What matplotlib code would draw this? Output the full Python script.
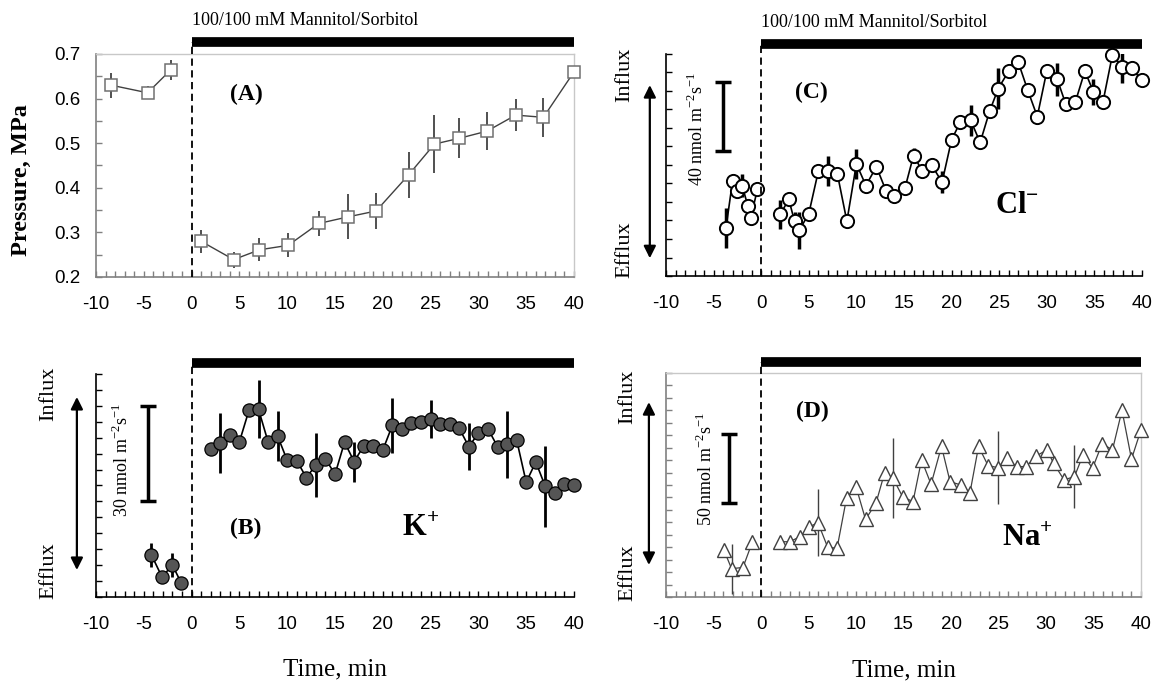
import matplotlib
matplotlib.use("Agg")
import matplotlib.pyplot as plt
from matplotlib.ticker import MultipleLocator, FormatStrFormatter

# ---------------- data ----------------
# Panel A: turgor pressure (MPa)
a_time = [-8.4, -4.6, -2.2, 1.0, 4.4, 7.1, 10.1, 13.3, 16.4, 19.3, 22.7, 25.4, 28.0, 30.9, 33.9, 36.8, 40.0]
a_pressure = [0.630, 0.613, 0.664, 0.280, 0.239, 0.261, 0.271, 0.320, 0.335, 0.348, 0.429,
              0.498, 0.511, 0.527, 0.563, 0.558, 0.660]
a_err = [0.028, 0.015, 0.023, 0.026, 0.018, 0.026, 0.027, 0.027, 0.050, 0.040, 0.052,
         0.065, 0.045, 0.042, 0.036, 0.044, 0.0]
a_n_pre = 3

# Panel B: K+ flux (relative units; scale bar = 30 nmol m-2 s-1)
b_pre_time = [-4.2, -3.1, -2.0, -1.1]
b_pre_flux = [13.2, 6.3, 10.0, 4.5]
b_pre_err = [3.8, 0, 3.8, 0]
b_time = list(range(2, 41))
b_flux = [46.3, 48.4, 50.7, 48.7, 58.6, 58.9, 48.7, 50.5, 42.9, 42.8, 37.5, 41.4, 43.4, 38.5,
          48.6, 42.5, 47.4, 47.4, 46.1, 53.9, 52.8, 54.7, 54.9, 55.8, 54.4, 54.2, 52.9, 47.2,
          51.4, 52.8, 47.2, 47.9, 49.3, 36.0, 42.4, 34.7, 32.6, 35.6, 35.3]
b_err = [0, 9.5, 0, 0, 0, 9.1, 0, 7.9, 0, 0, 0, 10.0, 0, 0, 0, 6.3, 0, 0, 0, 8.6, 0, 0, 0, 6.0,
         0, 0, 0, 7.4, 0, 0, 0, 10.6, 0, 0, 0, 12.6, 0, 0, 0]
b_scale = [30, 60]

# Panel C: Cl- flux (scale bar = 40 nmol m-2 s-1)
c_pre_time = [-3.7, -3.0, -2.5, -2.0, -1.4, -1.1, -0.4]
c_pre_flux = [26.0, 51.6, 45.7, 48.9, 37.8, 31.4, 46.8]
c_pre_err = [11, 0, 0, 6, 0, 0, 0]
c_time = [2.0, 2.9, 3.5, 4.0, 5.0, 6.0, 7.0, 8.0, 9.0, 10.0, 11.0, 12.1, 13.1, 14.0, 15.1, 16.0,
          16.9, 17.9, 19.0, 20.0, 20.9, 22.0, 23.0, 24.0, 24.9, 26.0, 27.0, 28.0, 29.0, 30.0,
          31.1, 32.0, 33.0, 34.0, 34.9, 35.9, 36.9, 37.9, 38.9, 40.0]
c_flux = [33.3, 41.4, 29.6, 24.7, 33.7, 56.6, 56.6, 55.2, 29.6, 60.6, 48.9, 59.1, 46.2, 43.0,
          47.5, 65.1, 57.0, 60.0, 50.7, 73.7, 83.0, 84.2, 72.2, 89.2, 101.3, 110.8, 115.6,
          100.4, 86.2, 110.8, 106.3, 92.8, 94.1, 110.8, 99.5, 94.1, 119.7, 113.1, 112.2, 105.9]
c_err = [8, 0, 5, 10, 0, 0, 8, 0, 0, 8, 0, 0, 0, 0, 0, 4, 0, 0, 6, 0, 0, 8.5, 0, 0, 11,
         0, 0, 3, 0, 0, 9, 0, 0, 0, 7, 0, 0, 9, 0, 0]
c_scale = [67.7, 104.8]

# Panel D: Na+ flux (scale bar = 50 nmol m-2 s-1)
d_pre_time = [-3.9, -3.1, -1.9, -0.9]
d_pre_flux = [37.6, 22.8, 23.7, 44.4]
d_pre_err = [0, 20, 0, 0]
d_time = [2.0, 3.0, 4.1, 5.1, 6.0, 7.0, 8.0, 9.0, 10.0, 11.0, 12.1, 13.0, 13.9, 14.9, 16.0,
          16.9, 17.9, 19.0, 19.9, 21.0, 22.0, 22.9, 23.9, 24.9, 25.9, 26.9, 27.9, 29.0, 30.1,
          30.8, 31.9, 33.0, 33.9, 34.9, 35.9, 37.0, 38.0, 39.0, 40.0]
d_flux = [44.4, 44.4, 48.4, 56.5, 59.7, 40.3, 39.0, 79.3, 88.7, 62.4, 75.3, 99.5, 95.4, 80.6,
          76.6, 110.2, 90.6, 121.0, 92.7, 90.1, 83.9, 121.0, 105.6, 104.0, 111.6, 104.8, 104.8,
          113.4, 118.3, 107.5, 94.1, 96.8, 114.2, 103.5, 123.1, 118.3, 150.0, 110.8, 134.4]
d_err = [0, 0, 0, 0, 27, 0, 0, 0, 0, 0, 0, 0, 32, 0, 0, 0, 0, 0, 0, 0, 0, 0, 0, 29, 0, 0, 0,
         0, 0, 0, 0, 25, 0, 0, 0, 0, 0, 0, 0]
d_scale = [75.3, 130.9]

x_ticks = [-10, -5, 0, 5, 10, 15, 20, 25, 30, 35, 40]
treatment = [0, 40]
title_text = "100/100 mM Mannitol/Sorbitol"

# ---------------- style ----------------
SERIF = "Liberation Serif"
SANS = "Liberation Sans"
plt.rcParams["font.family"] = SANS
plt.rcParams["axes.unicode_minus"] = False

fig = plt.figure(figsize=(11.6, 6.83), dpi=100)
axA = fig.add_axes([0.08276, 0.59444, 0.41207, 0.32650])
axB = fig.add_axes([0.08276, 0.12592, 0.41207, 0.32650])
axC = fig.add_axes([0.57414, 0.59590, 0.41034, 0.32504])
axD = fig.add_axes([0.57414, 0.12592, 0.40948, 0.32796])


def base_axes(ax, ylim, ystep, spine_col, frame, ylabels=False):
    ax.set_xlim(-10, 40)
    ax.set_ylim(*ylim)
    ax.set_xticks(x_ticks)
    ax.xaxis.set_minor_locator(MultipleLocator(1))
    ax.yaxis.set_major_locator(MultipleLocator(ystep))
    ax.tick_params(axis="both", which="both", direction="in", color=spine_col,
                   length=4, width=1)
    ax.tick_params(axis="x", which="major", labelsize=13.5, pad=14)
    ax.tick_params(axis="y", which="major", labelsize=13.5, pad=11, labelleft=ylabels)
    for s in ("left", "bottom"):
        ax.spines[s].set_color(spine_col)
        ax.spines[s].set_linewidth(1.2)
    for s in ("top", "right"):
        if frame:
            ax.spines[s].set_color("#c8c8c8")
            ax.spines[s].set_linewidth(1)
        else:
            ax.spines[s].set_visible(False)
    ax.set_facecolor("white")


def treatment_bar(ax, bar_y):
    tr = ax.get_xaxis_transform()
    ax.plot(treatment, [bar_y, bar_y], transform=tr, color="black", lw=7,
            solid_capstyle="butt", clip_on=False, zorder=5)
    ax.plot([0, 0], [0, bar_y], transform=tr, color="black", lw=1.3,
            ls=(0, (4, 2.5)), clip_on=False, zorder=4)


def influx_arrow(ax, x, ytop, ybot, tx, ty_in, ty_out):
    ax.annotate("", xy=(x, ytop), xytext=(x, ybot), xycoords="axes fraction",
                textcoords="axes fraction", annotation_clip=False,
                arrowprops=dict(arrowstyle="<|-|>", color="black", lw=1.6,
                                mutation_scale=18, shrinkA=0, shrinkB=0))
    ax.text(tx, ty_in, "Influx", transform=ax.transAxes, rotation=90, ha="center",
            va="center", fontsize=16, family=SERIF)
    ax.text(tx, ty_out, "Efflux", transform=ax.transAxes, rotation=90, ha="center",
            va="center", fontsize=16, family=SERIF)


def scale_bar(ax, x, yrange, label, lx, ly):
    mid = (yrange[0] + yrange[1]) / 2
    half = (yrange[1] - yrange[0]) / 2
    ax.errorbar([x], [mid], yerr=[half], fmt="none", ecolor="black", elinewidth=2.5,
                capsize=6, capthick=2.5)
    ax.text(lx, ly, label, rotation=90, ha="center", va="center", fontsize=13,
            family=SERIF)


# ---------------- Panel A ----------------
base_axes(axA, (0.2, 0.7), 0.1, "#808080", True, ylabels=True)
axA.yaxis.set_minor_locator(MultipleLocator(0.05))
axA.yaxis.set_major_formatter(FormatStrFormatter("%.1f"))
for sl in (slice(0, a_n_pre), slice(a_n_pre, None)):
    axA.errorbar(a_time[sl], a_pressure[sl], yerr=a_err[sl], fmt="none",
                 ecolor="#505050", elinewidth=1.4, zorder=2)
    axA.plot(a_time[sl], a_pressure[sl], color="#404040", lw=1.0, marker="s",
             ms=9, mfc="white", mec="#707070", mew=1.1, zorder=3, clip_on=False)
treatment_bar(axA, 1.052)
axA.text(0, 1.148, title_text, transform=axA.get_xaxis_transform(), ha="left",
         va="center", fontsize=13, family=SERIF)
axA.text(5.7, 0.61, "(A)", ha="center", va="center", fontsize=17, family=SERIF,
         weight="bold")
axA.text(-0.155, 0.435, "Pressure, MPa", transform=axA.transAxes, rotation=90,
         ha="center", va="center", fontsize=17.5, family=SERIF, weight="bold")

# ---------------- Panel B ----------------
base_axes(axB, (0, 70), 5, "black", False)
for t, f, e in ((b_pre_time, b_pre_flux, b_pre_err), (b_time, b_flux, b_err)):
    axB.errorbar(t, f, yerr=e, fmt="none", ecolor="black", elinewidth=2, zorder=2)
    axB.plot(t, f, color="black", lw=1.2, marker="o", ms=9.5, mfc="#555555",
             mec="black", mew=0.9, zorder=3, clip_on=False)
treatment_bar(axB, 1.049)
influx_arrow(axB, -0.040, 0.897, 0.121, -0.098, 0.91, 0.117)
scale_bar(axB, -4.6, b_scale, "30 nmol m$^{\\mathregular{-2}}$s$^{\\mathregular{-1}}$",
          -7.3, 43)
axB.text(5.7, 21.6, "(B)", ha="center", va="center", fontsize=17, family=SERIF,
         weight="bold")
axB.text(23.9, 21.6, "K$^{\\mathregular{+}}$", ha="center", va="center", fontsize=22,
         family=SERIF, weight="bold")
axB.text(0.5, -0.327, "Time, min", transform=axB.transAxes, ha="center", va="center",
         fontsize=18, family=SERIF)

# ---------------- Panel C ----------------
base_axes(axC, (0, 120), 10, "black", False)
for t, f, e in ((c_pre_time, c_pre_flux, c_pre_err), (c_time, c_flux, c_err)):
    axC.errorbar(t, f, yerr=e, fmt="none", ecolor="black", elinewidth=2.5, zorder=2)
    axC.plot(t, f, color="black", lw=1.2, marker="o", ms=9.5, mfc="white",
             mec="black", mew=1.4, zorder=3, clip_on=False)
treatment_bar(axC, 1.043)
axC.text(0, 1.14, title_text, transform=axC.get_xaxis_transform(), ha="left",
         va="center", fontsize=13, family=SERIF)
influx_arrow(axC, -0.034, 0.86, 0.08, -0.086, 0.905, 0.117)
scale_bar(axC, -4.0, c_scale, "40 nmol m$^{\\mathregular{-2}}$s$^{\\mathregular{-1}}$",
          -6.8, 79.4)
axC.text(5.3, 99, "(C)", ha="center", va="center", fontsize=17, family=SERIF,
         weight="bold")
axC.text(26.9, 38.2, "Cl$^{\\mathregular{-}}$", ha="center", va="center", fontsize=22,
         family=SERIF, weight="bold")

# ---------------- Panel D ----------------
base_axes(axD, (0, 180), 10, "#808080", True)
for t, f, e in ((d_pre_time, d_pre_flux, d_pre_err), (d_time, d_flux, d_err)):
    axD.errorbar(t, f, yerr=e, fmt="none", ecolor="#404040", elinewidth=1.0, zorder=2)
    axD.plot(t, f, color="#404040", lw=0.9, marker="^", ms=10, mfc="white",
             mec="#404040", mew=1.0, zorder=3, clip_on=False)
treatment_bar(axD, 1.049)
influx_arrow(axD, -0.036, 0.87, 0.143, -0.08, 0.893, 0.107)
scale_bar(axD, -3.4, d_scale, "50 nmol m$^{\\mathregular{-2}}$s$^{\\mathregular{-1}}$",
          -5.8, 102.7)
axD.text(5.4, 149, "(D)", ha="center", va="center", fontsize=17, family=SERIF,
         weight="bold")
axD.text(28.0, 47, "Na$^{\\mathregular{+}}$", ha="center", va="center", fontsize=22,
         family=SERIF, weight="bold")
axD.text(0.5, -0.327, "Time, min", transform=axD.transAxes, ha="center", va="center",
         fontsize=18, family=SERIF)

fig.savefig("out.png", dpi=100, facecolor="white")
